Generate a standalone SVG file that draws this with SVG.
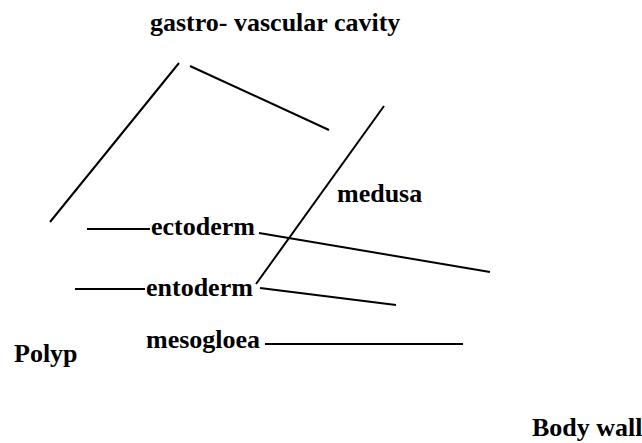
<svg xmlns="http://www.w3.org/2000/svg" width="642" height="443" viewBox="0 0 642 443">
<style>
text{font-family:"Liberation Serif","Times New Roman",serif;font-weight:bold;font-size:26px;fill:#000}
line{stroke:#000;stroke-width:2;fill:none}
</style>
<rect width="642" height="443" fill="#fff"/>
<g id="connectors">
<line x1="179" y1="63" x2="50" y2="222"/>
<line x1="190" y1="66" x2="329" y2="130"/>
<line x1="384" y1="106" x2="256" y2="284"/>
<line x1="87" y1="229" x2="150" y2="229"/>
<line x1="259" y1="233" x2="490" y2="272"/>
<line x1="75" y1="289" x2="145" y2="289"/>
<line x1="260" y1="288" x2="396" y2="305"/>
<line x1="265" y1="344" x2="463" y2="344"/>
</g>
<g id="gastro"><text x="150" y="31">gastro- vascular cavity</text></g>
<g id="medusa"><text x="337" y="202">medusa</text></g>
<g id="ectoderm"><text x="151" y="235">ectoderm</text></g>
<g id="entoderm"><text x="146" y="296">entoderm</text></g>
<g id="mesogloea"><text x="146" y="348">mesogloea</text></g>
<g id="polyp"><text x="14" y="362">Polyp</text></g>
<g id="bodywall"><text x="532" y="436">Body wall</text></g>
</svg>
